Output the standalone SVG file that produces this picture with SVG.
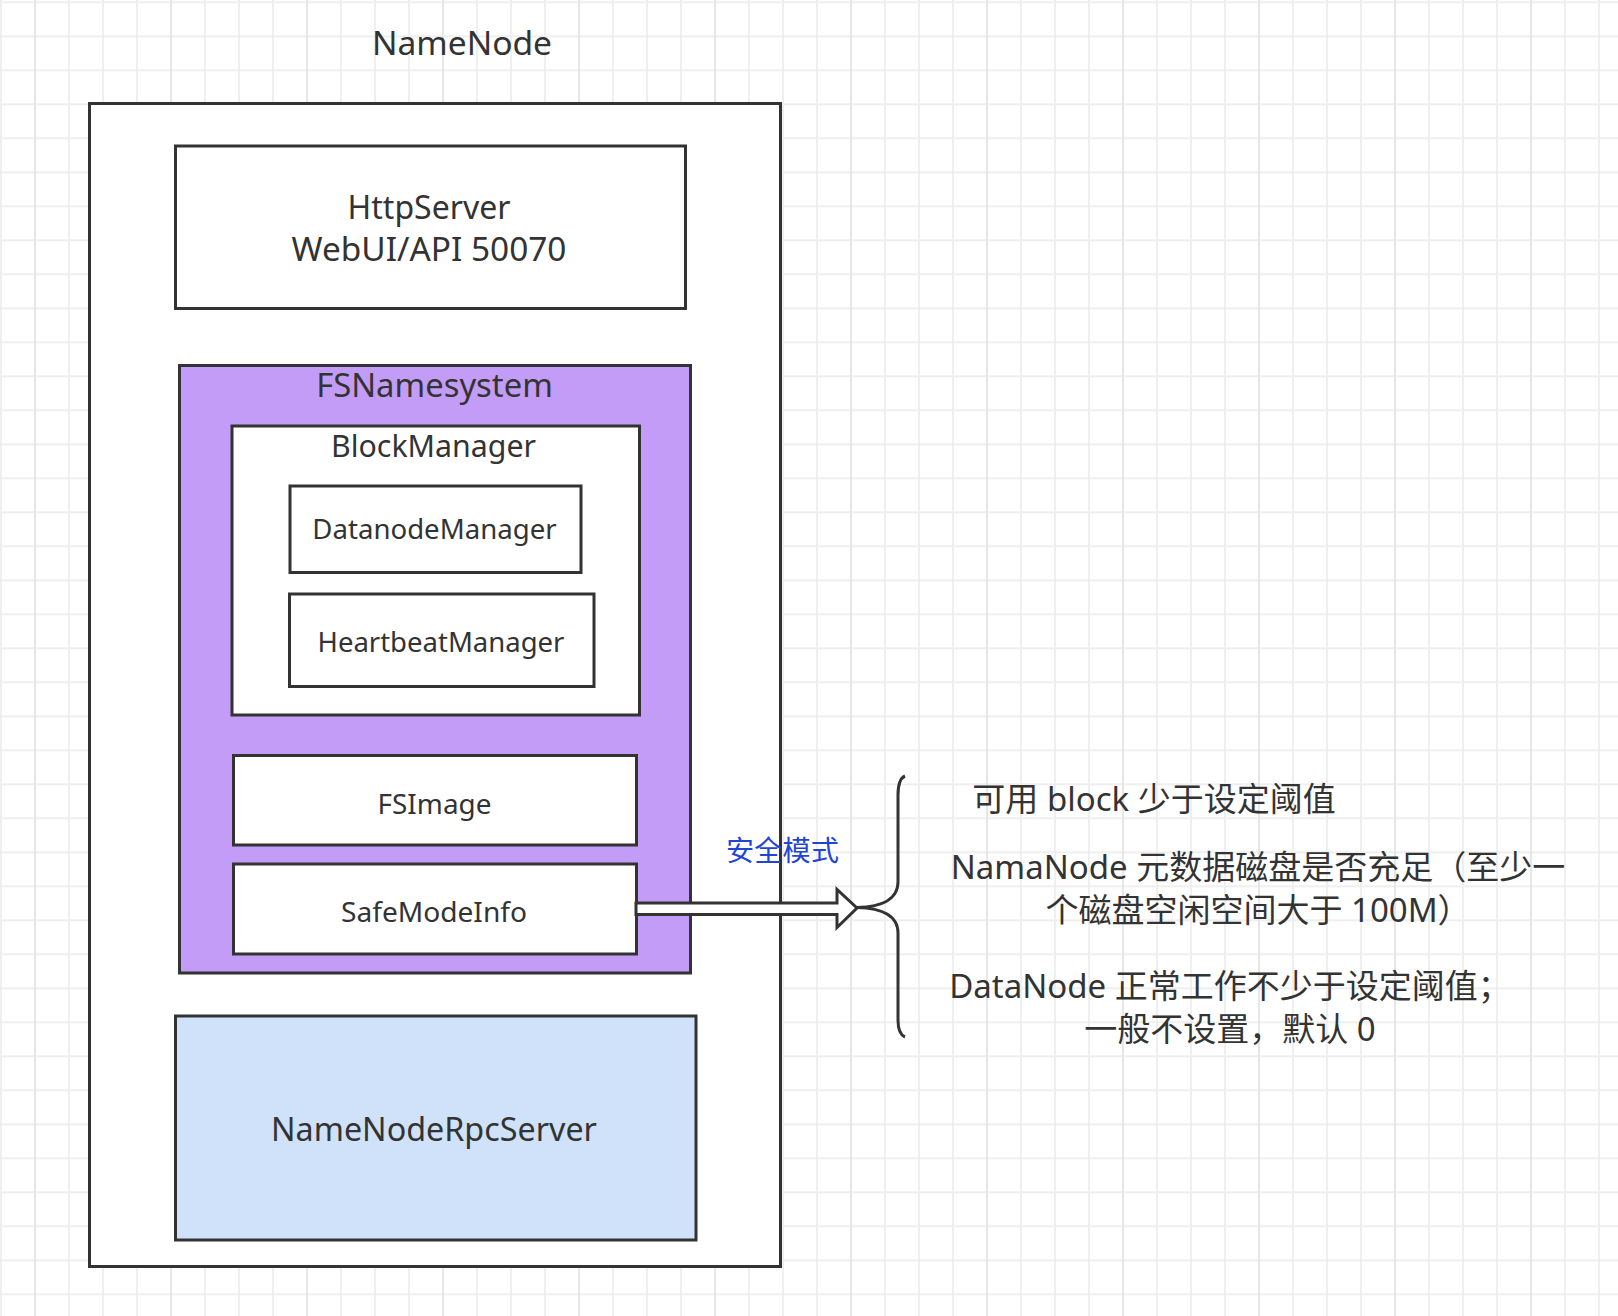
<svg xmlns="http://www.w3.org/2000/svg" width="1618" height="1316" viewBox="0 0 1618 1316">
  <style>
    .box { stroke: #333333; stroke-width: 3; }
    .t { font-family: 'Noto Sans', 'Noto Sans CJK SC', sans-serif; fill: #333333; text-anchor: middle; }
    .note { font-family: 'Noto Sans', 'Noto Sans CJK SC', sans-serif; fill: #333333; text-anchor: middle; font-size: 33px; }
    .conn { stroke: #333333; stroke-width: 3; stroke-linejoin: miter; }
  </style>
  <defs>
    <pattern id="gridMinor" width="34" height="34" patternUnits="userSpaceOnUse" x="18" y="-14.7">
      <path d="M17,0 V34 M0,17 H34" stroke="#efefef" stroke-width="2" fill="none"/>
    </pattern>
    <pattern id="gridMajor" width="136" height="1316" patternUnits="userSpaceOnUse" x="-33" y="0">
      <path d="M68,0 V1316" stroke="#e7e7e7" stroke-width="2.2" fill="none"/>
    </pattern>
  </defs>

  <rect x="0" y="0" width="1618" height="1316" fill="#ffffff"/>
  <rect x="0" y="0" width="1618" height="1316" fill="url(#gridMinor)"/>
  <rect x="0" y="0" width="1618" height="1316" fill="url(#gridMajor)"/>

  <g id="namenode">
    <text class="t" x="462" y="54.5" font-size="33.6">NameNode</text>
    <rect class="box" x="89.5" y="103.5" width="691" height="1163" fill="#ffffff"/>
  </g>

  <g id="httpserver">
    <rect class="box" x="175.5" y="146" width="510" height="162.5" fill="#ffffff"/>
    <text class="t" x="429" y="219" font-size="32">HttpServer</text>
    <text class="t" x="429" y="261" font-size="33.4">WebUI/API 50070</text>
  </g>

  <g id="fsnamesystem">
    <rect class="box" x="179.5" y="365.5" width="511" height="607.5" fill="#c39cf7"/>
    <text class="t" x="434.5" y="397" font-size="32.8">FSNamesystem</text>
  </g>

  <g id="blockmanager">
    <rect class="box" x="232" y="426" width="407.5" height="289" fill="#ffffff"/>
    <text class="t" x="433.5" y="457" font-size="30.3">BlockManager</text>
  </g>

  <g id="datanodemanager">
    <rect class="box" x="290" y="486" width="291" height="86.5" fill="#ffffff"/>
    <text class="t" x="434.5" y="539" font-size="27.6">DatanodeManager</text>
  </g>

  <g id="heartbeatmanager">
    <rect class="box" x="289.5" y="594" width="304.5" height="92.5" fill="#ffffff"/>
    <text class="t" x="441" y="652" font-size="27.5">HeartbeatManager</text>
  </g>

  <g id="fsimage">
    <rect class="box" x="233.5" y="755.5" width="403" height="89.5" fill="#ffffff"/>
    <text class="t" x="434.5" y="814" font-size="27.9">FSImage</text>
  </g>

  <g id="safemodeinfo">
    <rect class="box" x="233.5" y="864" width="403" height="90" fill="#ffffff"/>
    <text class="t" x="434" y="921.5" font-size="28.1">SafeModeInfo</text>
  </g>

  <g id="rpcserver">
    <rect class="box" x="175.5" y="1016" width="520.5" height="224" fill="#cfe2f9"/>
    <text class="t" x="434" y="1141" font-size="32.3">NameNodeRpcServer</text>
  </g>

  <g id="connectors">
    <polygon class="conn" fill="#ffffff" points="636,903 837,903 837,889.5 857,908 837,927.5 837,914.5 636,914.5"/>
    <path class="conn" fill="none" d="M905,776 Q898,779 898,795 L898,882 C898,900 880,907 857,907.5 C880,908 898,915 898,933 L898,1020 Q898,1034 905,1037"/>
    <text x="782.5" y="861" font-size="28.2" font-family="'Noto Sans CJK SC', sans-serif" fill="#1f45d6" text-anchor="middle">安全模式</text>
  </g>

  <g id="conditions">
    <text class="note" x="1154" y="811">可用 block 少于设定阈值</text>
    <text class="note" x="1258" y="879" font-size="32.8">NamaNode 元数据磁盘是否充足（至少一</text>
    <text class="note" x="1258" y="921.5" font-size="32.8">个磁盘空闲空间大于 100M）</text>
    <text class="note" x="1230" y="998">DataNode 正常工作不少于设定阈值；</text>
    <text class="note" x="1230" y="1041">一般不设置，默认 0</text>
  </g>
</svg>
